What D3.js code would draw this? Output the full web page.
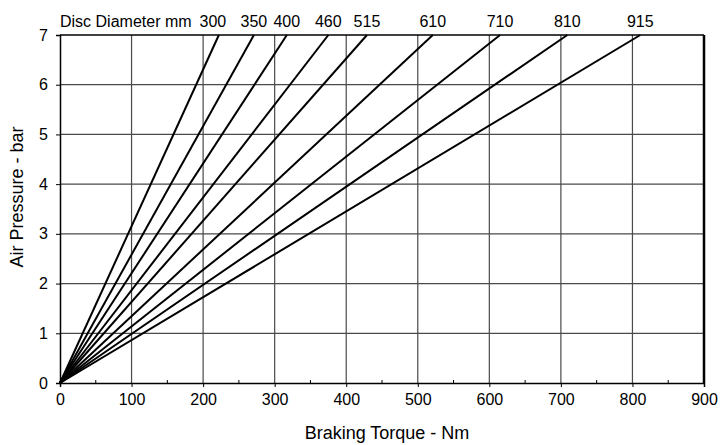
<!DOCTYPE html>
<meta charset="utf-8">
<style>
  body { margin: 0; background: #fff; }
  text { font-family: Arial, "Liberation Sans", sans-serif; fill: #000; }
</style>

<!-- Load d3.js -->
<script src="https://d3js.org/d3.v7.min.js"></script>

<div id="my_dataviz"></div>

<script>
    // disc diameters (mm) and braking torque (Nm) reached at 7 bar
    const discs = [300, 350, 400, 460, 515, 610, 710, 810, 915];
    const torqueAt7 = [222, 271, 317, 375, 429, 521, 615, 709, 811];
    const xTicks = [0, 100, 200, 300, 400, 500, 600, 700, 800, 900];
    const yTicks = [0, 1, 2, 3, 4, 5, 6, 7];

    const margin = {top: 35, right: 17, bottom: 62, left: 60},
        width = 721 - margin.left - margin.right,
        height = 445 - margin.top - margin.bottom;

    const svg = d3.select("#my_dataviz")
      .append("svg")
        .attr("width", width + margin.left + margin.right)
        .attr("height", height + margin.top + margin.bottom)
      .append("g")
        .attr("transform", `translate(${margin.left},${margin.top})`);

    const x = d3.scaleLinear().domain([0, 900]).range([0, width]);
    const y = d3.scaleLinear().domain([0, 7]).range([height, 0]);

    // grid
    svg.append("g")
      .selectAll("line")
      .data(xTicks.slice(1, -1))
      .join("line")
        .attr("x1", d => x(d)).attr("x2", d => x(d))
        .attr("y1", 0).attr("y2", height)
        .attr("stroke", "#4a4a4a").attr("stroke-width", 1.2);
    svg.append("g")
      .selectAll("line")
      .data(yTicks.slice(1, -1))
      .join("line")
        .attr("x1", 0).attr("x2", width)
        .attr("y1", d => y(d)).attr("y2", d => y(d))
        .attr("stroke", "#4a4a4a").attr("stroke-width", 1.2);

    // frame: top and right
    svg.append("line")
      .attr("x1", 0).attr("x2", width).attr("y1", 0).attr("y2", 0)
      .attr("stroke", "#000").attr("stroke-width", 1.5);
    svg.append("line")
      .attr("x1", width).attr("x2", width).attr("y1", 0).attr("y2", height)
      .attr("stroke", "#000").attr("stroke-width", 2.5);

    // X axis
    const xAxis = svg.append("g")
      .attr("transform", `translate(0, ${height})`)
      .call(d3.axisBottom(x).tickValues(xTicks).tickSize(4).tickPadding(7).tickFormat(d3.format("d")));
    // minor ticks inside
    svg.append("g")
      .selectAll("line")
      .data(d3.range(50, 900, 100))
      .join("line")
        .attr("x1", d => x(d)).attr("x2", d => x(d))
        .attr("y1", height).attr("y2", height - 3)
        .attr("stroke", "#000");

    // Y axis
    const yAxis = svg.append("g")
      .call(d3.axisLeft(y).tickValues(yTicks).tickSize(4).tickPadding(8).tickFormat(d3.format("d")));

    [xAxis, yAxis].forEach(a => {
      a.select(".domain").attr("stroke-width", 1.5);
      a.selectAll("text").style("font-size", "16px").attr("fill", "#000");
    });

    // lines from origin
    svg.append("g")
      .selectAll("line")
      .data(torqueAt7)
      .join("line")
        .attr("x1", x(0)).attr("y1", y(0))
        .attr("x2", d => x(d)).attr("y2", y(7))
        .attr("stroke", "#000").attr("stroke-width", 2);

    // top labels
    svg.append("text")
      .attr("x", 0).attr("y", -8)
      .style("font-size", "16px")
      .text("Disc Diameter mm");
    svg.append("g")
      .selectAll("text")
      .data(discs)
      .join("text")
        .attr("x", (d, i) => x(torqueAt7[i]) - (i === 0 ? 6 : 0))
        .attr("y", -8)
        .attr("text-anchor", "middle")
        .style("font-size", "16px")
        .text(d => d);

    // axis titles
    svg.append("text")
      .attr("x", width / 2 + 5).attr("y", height + 56)
      .attr("text-anchor", "middle")
      .style("font-size", "18px")
      .text("Braking Torque - Nm");
    svg.append("text")
      .attr("transform", `translate(${-37}, ${height / 2 - 12}) rotate(-90)`)
      .attr("text-anchor", "middle")
      .style("font-size", "18px")
      .text("Air Pressure - bar");
</script>
